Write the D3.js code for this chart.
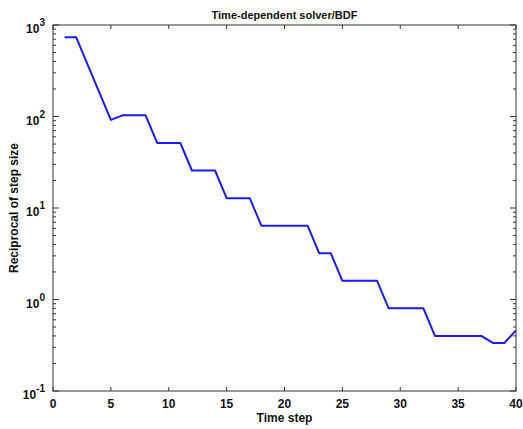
<!DOCTYPE html>
<html>
<head>
<meta charset="utf-8">
<script src="https://cdn.jsdelivr.net/npm/d3@7"></script>
<style>
  body { margin: 0; background: #fff; }
  svg { display: block; font-family: 'Liberation Sans', Arial, sans-serif; }
</style>
</head>
<body>
<svg id="chart"></svg>
<script>
const timeSteps = [1, 2, 3, 4, 5, 6, 7, 8, 9, 10, 11, 12, 13, 14, 15, 16, 17, 18, 19, 20,
  21, 22, 23, 24, 25, 26, 27, 28, 29, 30, 31, 32, 33, 34, 35, 36, 37, 38, 39, 40]
const reciprocal = [735, 735, 367, 184, 91.8, 103, 103, 103, 51.4, 51.4, 51.4, 25.7, 25.7, 25.7, 12.8, 12.8, 12.8, 6.4, 6.4, 6.4,
  6.4, 6.4, 3.2, 3.2, 1.6, 1.6, 1.6, 1.6, 0.8, 0.8, 0.8, 0.8, 0.4, 0.4, 0.4, 0.4, 0.4, 0.335, 0.335, 0.46]
const xTicks = [0, 5, 10, 15, 20, 25, 30, 35, 40]
const yDecades = [0.1, 1, 10, 100, 1000]

const margin = { top: 25, right: 7, bottom: 38, left: 53 }
const W = 523, H = 429
const width = W - margin.left - margin.right
const height = H - margin.top - margin.bottom
const axisColor = '#333'

const svg = d3.select('#chart').attr('width', W).attr('height', H)
const g = svg.append('g').attr('transform', 'translate(' + margin.left + ',' + margin.top + ')')

const x = d3.scaleLinear().domain([0, 40]).range([0, width])
const y = d3.scaleLog().domain([0.1, 1000]).range([height, 0])

// minor ticks 2..9 per decade
const minor = []
yDecades.slice(0, -1).forEach(d => {
  for (let k = 2; k <= 9; k++) minor.push(d * k)
})

// frame
g.append('rect')
  .attr('width', width).attr('height', height)
  .attr('fill', 'none').attr('stroke', axisColor).attr('stroke-width', 1)

// x ticks bottom + top (inward)
g.append('g').selectAll('line.xb').data(xTicks).enter().append('line')
  .attr('x1', d => x(d)).attr('x2', d => x(d))
  .attr('y1', height).attr('y2', height - 4)
  .attr('stroke', axisColor)
g.append('g').selectAll('line.xt').data(xTicks).enter().append('line')
  .attr('x1', d => x(d)).attr('x2', d => x(d))
  .attr('y1', 0).attr('y2', 4)
  .attr('stroke', axisColor)

// y ticks left + right (inward)
const yTickData = yDecades.map(v => ({ v, len: 6 })).concat(minor.map(v => ({ v, len: 3 })))
g.append('g').selectAll('line').data(yTickData).enter().append('line')
  .attr('x1', 0).attr('x2', d => d.len)
  .attr('y1', d => y(d.v)).attr('y2', d => y(d.v))
  .attr('stroke', axisColor)
g.append('g').selectAll('line').data(yTickData).enter().append('line')
  .attr('x1', width).attr('x2', d => width - d.len)
  .attr('y1', d => y(d.v)).attr('y2', d => y(d.v))
  .attr('stroke', axisColor)

// x tick labels
g.append('g').selectAll('text').data(xTicks).enter().append('text')
  .attr('x', d => x(d)).attr('y', height + 17)
  .attr('text-anchor', 'middle')
  .attr('font-size', '12px').attr('font-weight', 'bold').attr('fill', '#111')
  .text(d => d)

// y tick labels: 10 with superscript exponent
const yLab = g.append('g').selectAll('text').data(yDecades).enter().append('text')
  .attr('x', -8).attr('y', d => y(d) + 8)
  .attr('text-anchor', 'end')
  .attr('font-size', '12px').attr('font-weight', 'bold').attr('fill', '#111')
yLab.append('tspan').text('10')
yLab.append('tspan')
  .attr('dy', -7).attr('font-size', '10px')
  .text(d => Math.round(Math.log10(d)))

// line
const line = d3.line()
  .x((d, i) => x(timeSteps[i]))
  .y(d => y(d))
g.append('path')
  .datum(reciprocal)
  .attr('d', line)
  .attr('fill', 'none')
  .attr('stroke', '#1a1aff')
  .attr('stroke-width', 2)
  .attr('stroke-linejoin', 'round')

// title and axis labels
svg.append('text')
  .attr('x', margin.left + width / 2).attr('y', 19)
  .attr('text-anchor', 'middle')
  .attr('font-size', '11px').attr('font-weight', 'bold').attr('fill', '#111')
  .text('Time-dependent solver/BDF')

svg.append('text')
  .attr('x', margin.left + width / 2).attr('y', H - 7)
  .attr('text-anchor', 'middle')
  .attr('font-size', '12px').attr('font-weight', 'bold').attr('fill', '#111')
  .text('Time step')

svg.append('text')
  .attr('transform', 'translate(18,' + (margin.top + height / 2) + ') rotate(-90)')
  .attr('text-anchor', 'middle')
  .attr('font-size', '12px').attr('font-weight', 'bold').attr('fill', '#111')
  .text('Reciprocal of step size')
</script>
</body>
</html>
